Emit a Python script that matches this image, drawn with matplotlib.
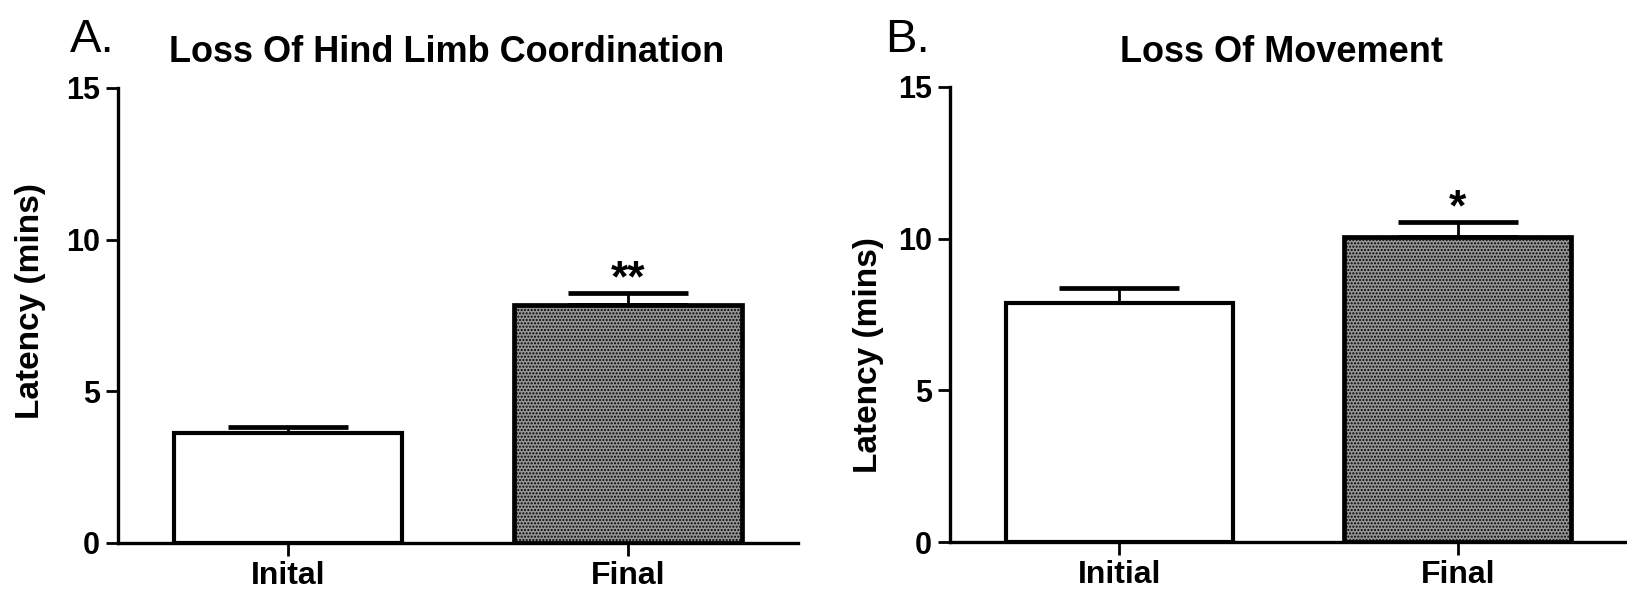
import numpy as np
import matplotlib.pyplot as plt

plt.rcParams['font.family'] = ['Liberation Sans', 'DejaVu Sans']

# panel A: loss of hind limb coordination
labels_a = ['Inital', 'Final']
means_a = [3.63, 7.85]
errs_a = [0.20, 0.40]
stars_a = ['', '**']

# panel B: loss of movement
labels_b = ['Initial', 'Final']
means_b = [7.88, 10.05]
errs_b = [0.48, 0.50]
stars_b = ['', '*']

W, H = 1627, 598
fig = plt.figure(figsize=(W / 100, H / 100), dpi=100, facecolor='white')


def draw_panel(rect, labels, means, errs, stars, title, letter, letter_x, title_x, ylab_x, ylab_y):
    ax = fig.add_axes([rect[0] / W, rect[1] / H, rect[2] / W, rect[3] / H])
    x = np.arange(len(means))
    ax.bar(x[0], means[0], width=0.67, color='white', edgecolor='black', linewidth=3, zorder=2)
    ax.bar(x[1], means[1], width=0.67, color='#959595', edgecolor='black', linewidth=3.4,
           hatch='.....', zorder=2)
    ax.errorbar(x, means, yerr=[np.zeros(len(errs)), errs], fmt='none', ecolor='black',
                elinewidth=2, capsize=43, capthick=3.4, zorder=1)
    for xi, m, e, s in zip(x, means, errs, stars):
        if s:
            ax.text(xi, m + e + 0.05, s, ha='center', va='baseline', fontsize=32, fontweight='bold')
    ax.set_xlim(-0.5, 1.5)
    ax.set_ylim(0, 15)
    ax.set_yticks([0, 5, 10, 15])
    ax.set_xticks(x)
    ax.set_xticklabels(labels)
    for side in ['top', 'right']:
        ax.spines[side].set_visible(False)
    for side in ['left', 'bottom']:
        ax.spines[side].set_linewidth(2.4)
    ax.tick_params(axis='both', width=2, length=9, pad=4)
    ax.tick_params(axis='y', labelsize=22)
    ax.tick_params(axis='x', labelsize=23)
    for t in ax.get_xticklabels() + ax.get_yticklabels():
        t.set_fontweight('bold')
    fig.text(letter_x / W, 1 - 40 / H, letter, fontsize=34, ha='left', va='center')
    fig.text(title_x / W, 1 - 52 / H, title, fontsize=26, fontweight='bold', ha='center', va='center')
    fig.text(ylab_x / W, 1 - ylab_y / H, 'Latency (mins)', fontsize=24, fontweight='bold',
             rotation=90, ha='center', va='center')
    return ax


draw_panel((118, 55, 680, 455), labels_a, means_a, errs_a, stars_a,
           'Loss Of Hind Limb Coordination', 'A.', 70, 447, 31, 301)
draw_panel((950, 56, 677, 455), labels_b, means_b, errs_b, stars_b,
           'Loss Of Movement', 'B.', 885, 1282, 868, 355)

fig.savefig('out.png', dpi=100, facecolor='white')
